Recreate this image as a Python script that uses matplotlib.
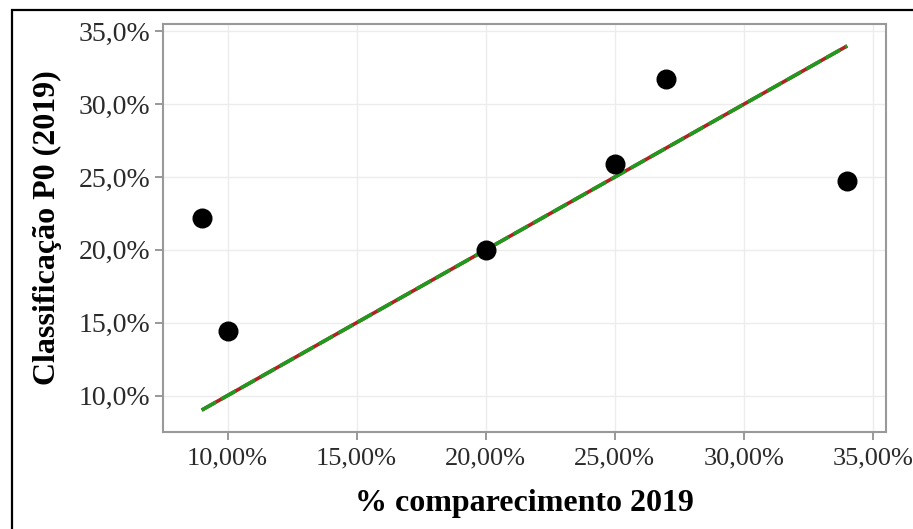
import matplotlib.pyplot as plt
from matplotlib.patches import Rectangle

# dados: % comparecimento x classificação P0 (2019)
comparecimento = [9.0, 10.0, 20.0, 25.0, 27.0, 34.0]
classificacao = [22.2, 14.4, 20.0, 25.9, 31.7, 24.7]

# reta de referência (y = x)
reta_x = [9.0, 34.0]
reta_y = [9.0, 34.0]

x_ticks = [10, 15, 20, 25, 30, 35]
x_labels = ['10,00%', '15,00%', '20,00%', '25,00%', '30,00%', '35,00%']
y_ticks = [10, 15, 20, 25, 30, 35]
y_labels = ['10,0%', '15,0%', '20,0%', '25,0%', '30,0%', '35,0%']

plt.rcParams['font.family'] = ['Liberation Serif', 'DejaVu Serif']

fig = plt.figure(figsize=(9.13, 5.29), dpi=100)
ax = fig.add_axes([0.1785, 0.1834, 0.7919, 0.7712])

ax.set_xlim(7.5, 35.5)
ax.set_ylim(7.5, 35.5)
ax.grid(True, color='#ececec', linewidth=1.0)
ax.set_axisbelow(True)

# linha vermelha por baixo, tracejado verde por cima
ax.plot(reta_x, reta_y, color='#b22222', linewidth=2.6, solid_capstyle='butt', zorder=2)
ax.plot(reta_x, reta_y, color='#1e9a1e', linewidth=2.6, linestyle=(0, (4.6, 1.6)),
        dash_capstyle='butt', zorder=3)

ax.scatter(comparecimento, classificacao, s=180, color='black', zorder=4)

ax.set_xticks(x_ticks)
ax.set_xticklabels(x_labels)
ax.set_yticks(y_ticks)
ax.set_yticklabels(y_labels)
ax.tick_params(axis='both', colors='#888888', labelcolor='#2a2a2a', labelsize=20,
               length=6, width=1.2, direction='out')
ax.tick_params(axis='x', pad=5, labelsize=19)
ax.tick_params(axis='y', pad=3)

for s in ax.spines.values():
    s.set_color('#999999')
    s.set_linewidth(1.5)

ax.set_xlabel('% comparecimento 2019', fontsize=23, fontweight='bold', labelpad=14)
ax.set_ylabel('Classificação P0 (2019)', fontsize=23, fontweight='bold', labelpad=12)

# moldura preta em volta da figura
fig.patches.append(Rectangle((12 / 913, -0.1), 1.1, 1 - 10 / 529 + 0.1,
                             transform=fig.transFigure, fill=False,
                             edgecolor='black', linewidth=1.6))

fig.savefig('out.png', dpi=100)
